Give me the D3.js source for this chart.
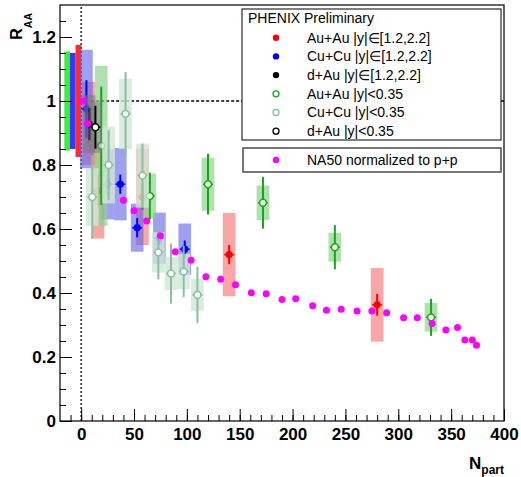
<!DOCTYPE html>
<html>
<head>
<meta charset="utf-8">
<script src="https://cdn.jsdelivr.net/npm/d3@7"></script>
<style>
    body { margin: 0; background: #fff; }
    svg { font-family: "Liberation Sans", Arial, Helvetica, sans-serif; }
</style>
</head>
<body>
<svg id="chart" width="521" height="477"></svg>
<script>
// PHENIX J/psi R_AA vs N_part, forward rapidity |y| in [1.2,2.2]
var auauFwdNpart = [7, 16, 58, 140, 280];
var auauFwdRaa = [0.93, 0.72, 0.70, 0.52, 0.363];
var auauFwdStat = [0.06, 0.05, 0.04, 0.03, 0.034];
var auauFwdSys = [0.13, 0.15, 0.15, 0.13, 0.115];

var cucuFwdNpart = [5, 25, 37, 53, 74, 98];
var cucuFwdRaa = [0.975, 0.74, 0.74, 0.604, 0.571, 0.537];
var cucuFwdStat = [0.09, 0.03, 0.03, 0.03, 0.02, 0.027];
var cucuFwdSys = [0.185, 0.11, 0.113, 0.075, 0.08, 0.08];

var dauFwdNpart = [8];
var dauFwdRaa = [0.928];
var dauFwdStat = [0.05];
var dauFwdSys = [0.09];

// mid rapidity |y|<0.35
var auauMidNpart = [19, 65, 120, 172, 240, 331];
var auauMidRaa = [0.86, 0.703, 0.74, 0.682, 0.543, 0.324];
var auauMidStat = [0.185, 0.073, 0.095, 0.081, 0.069, 0.058];
var auauMidSys = [0.25, 0.07, 0.083, 0.054, 0.045, 0.045];

var cucuMidNpart = [10.5, 26, 42, 58, 73, 85, 97, 110];
var cucuMidRaa = [0.70, 0.80, 0.96, 0.767, 0.527, 0.461, 0.467, 0.394];
var cucuMidStat = [0.13, 0.11, 0.13, 0.10, 0.084, 0.094, 0.08, 0.088];
var cucuMidSys = [0.09, 0.12, 0.11, 0.10, 0.063, 0.052, 0.055, 0.05];

var dauMidNpart = [13.5];
var dauMidRaa = [0.918];
var dauMidStat = [0.067];
var dauMidSys = [0.08];

// NA50, normalized to p+p
var na50Npart = [2, 6, 40, 50, 62, 75, 89, 104, 118, 132, 146, 161, 175, 190, 203, 219,
    232, 246, 261, 275, 289, 305, 318, 332, 345, 356, 363, 370, 374];
var na50Raa = [1.0, 0.93, 0.69, 0.657, 0.625, 0.579, 0.529, 0.502, 0.451, 0.443, 0.426, 0.401,
    0.398, 0.38, 0.382, 0.36, 0.346, 0.349, 0.344, 0.344, 0.338, 0.323, 0.323, 0.305,
    0.284, 0.292, 0.253, 0.253, 0.237];

// global systematic uncertainties (drawn at R_AA = 1, left of N_part = 0)
var globalSysLabels = ['Au+Au |y|<0.35', 'Cu+Cu', 'Au+Au |y|\u2208[1.2,2.2]'];
var globalSysErr = [0.155, 0.15, 0.175];

var xTickLabels = [0, 50, 100, 150, 200, 250, 300, 350, 400];
var yTickLabels = [0, 0.2, 0.4, 0.6, 0.8, 1, 1.2];

var legendHeader = 'PHENIX Preliminary';
var legendLabels = ['Au+Au |y|\u2208[1.2,2.2]', 'Cu+Cu |y|\u2208[1.2,2.2]', 'd+Au |y|\u2208[1.2,2.2]',
    'Au+Au |y|<0.35', 'Cu+Cu |y|<0.35', 'd+Au |y|<0.35'];
var na50Label = 'NA50 normalized to p+p';

var series = [
    {n: auauFwdNpart, r: auauFwdRaa, stat: auauFwdStat, sys: auauFwdSys, color: '#ff0000', box: '#f56b6b', boxOpacity: 0.6, open: false},
    {n: cucuFwdNpart, r: cucuFwdRaa, stat: cucuFwdStat, sys: cucuFwdSys, color: '#0000ff', box: '#6161e6', boxOpacity: 0.6, open: false},
    {n: dauFwdNpart, r: dauFwdRaa, stat: dauFwdStat, sys: dauFwdSys, color: '#000000', box: '#7b7b7b', boxOpacity: 0.6, open: false},
    {n: auauMidNpart, r: auauMidRaa, stat: auauMidStat, sys: auauMidSys, color: '#11aa11', box: '#8ed38e', boxOpacity: 0.7, open: true},
    {n: cucuMidNpart, r: cucuMidRaa, stat: cucuMidStat, sys: cucuMidSys, color: '#88c0a0', box: '#d3e6d7', boxOpacity: 0.8, open: true},
    {n: dauMidNpart, r: dauMidRaa, stat: dauMidStat, sys: dauMidSys, color: '#000000', box: '#7b7b7b', boxOpacity: 0.5, open: true}
];
var globalColors = ['#3cee3c', '#3636ff', '#ff2a2a'];
var sysHalfWidth = 6;
var globalWidth = 5.3;

var svg = d3.select('#chart');

var x = d3.scaleLinear().domain([-20, 400]).range([60, 504]);
var y = d3.scaleLinear().domain([0, 1.3]).range([421, 5]);

// reference lines
svg.append('line')
    .attr('x1', x(0)).attr('x2', x(0))
    .attr('y1', y(0)).attr('y2', y(1.3))
    .attr('stroke', '#000').attr('stroke-width', 1.3)
    .attr('stroke-dasharray', '2,2');
svg.append('line')
    .attr('x1', x(0)).attr('x2', x(400))
    .attr('y1', y(1)).attr('y2', y(1))
    .attr('stroke', '#000').attr('stroke-width', 1.5)
    .attr('stroke-dasharray', '3,2');

// global uncertainty bars
svg.append('g').selectAll('rect')
    .data(globalSysErr)
    .enter().append('rect')
    .attr('x', function(d, i) { return x(-globalWidth * (globalSysErr.length - i)); })
    .attr('width', x(globalWidth) - x(0))
    .attr('y', function(d) { return y(1 + d); })
    .attr('height', function(d) { return y(1 - d) - y(1 + d); })
    .attr('fill', function(d, i) { return globalColors[i]; });

function points(s) {
    return s.n.map(function(n, i) {
        return {n: n, r: s.r[i], stat: s.stat[i], sys: s.sys[i], s: s};
    });
}

// each data set: systematic boxes, then error bars, then markers
series.forEach(function(s) {
    var g = svg.append('g');
    var pts = points(s);

    g.selectAll('rect')
        .data(pts)
        .enter().append('rect')
        .attr('x', function(d) { return x(d.n - sysHalfWidth); })
        .attr('width', x(2 * sysHalfWidth) - x(0))
        .attr('y', function(d) { return y(d.r + d.sys); })
        .attr('height', function(d) { return y(d.r - d.sys) - y(d.r + d.sys); })
        .attr('fill', s.box)
        .attr('fill-opacity', s.boxOpacity);

    g.selectAll('line.v')
        .data(pts)
        .enter().append('line')
        .attr('class', 'v')
        .attr('x1', function(d) { return x(d.n); })
        .attr('x2', function(d) { return x(d.n); })
        .attr('y1', function(d) { return y(d.r + d.stat); })
        .attr('y2', function(d) { return y(d.r - d.stat); })
        .attr('stroke', s.color).attr('stroke-width', 2);
    g.selectAll('line.h')
        .data(pts)
        .enter().append('line')
        .attr('class', 'h')
        .attr('x1', function(d) { return x(d.n) - 5; })
        .attr('x2', function(d) { return x(d.n) + 5; })
        .attr('y1', function(d) { return y(d.r); })
        .attr('y2', function(d) { return y(d.r); })
        .attr('stroke', s.color).attr('stroke-width', 1.5);

    g.selectAll('circle')
        .data(pts)
        .enter().append('circle')
        .attr('cx', function(d) { return x(d.n); })
        .attr('cy', function(d) { return y(d.r); })
        .attr('r', s.open ? 3.4 : 3.6)
        .attr('fill', s.open ? '#fff' : s.color)
        .attr('stroke', s.color)
        .attr('stroke-width', s.open ? 1.5 : 0);
});

// NA50
svg.append('g').selectAll('circle')
    .data(na50Npart)
    .enter().append('circle')
    .attr('cx', function(d) { return x(d); })
    .attr('cy', function(d, i) { return y(na50Raa[i]); })
    .attr('r', 3.5)
    .attr('fill', '#ff00ff');

// frame
svg.append('rect')
    .attr('x', x(-20)).attr('y', y(1.3))
    .attr('width', x(400) - x(-20)).attr('height', y(0) - y(1.3))
    .attr('fill', 'none').attr('stroke', '#000').attr('stroke-width', 1.2);

// axes (ticks inside the frame)
function styleAxis(g) {
    g.select('.domain').remove();
    g.selectAll('.tick line').attr('stroke', '#000');
    g.selectAll('.tick text')
        .attr('fill', '#000')
        .attr('font-size', 17)
        .attr('font-weight', 'bold')
        .attr('font-family', '"Liberation Sans", Arial, Helvetica, sans-serif');
}

svg.append('g')
    .attr('transform', 'translate(0,' + y(0) + ')')
    .call(d3.axisBottom(x).tickValues(d3.range(-10, 401, 10)).tickSize(-6).tickFormat(''))
    .call(styleAxis);
svg.append('g')
    .attr('transform', 'translate(0,' + y(0) + ')')
    .call(d3.axisBottom(x).tickValues(xTickLabels).tickSize(-12).tickPadding(6.5).tickFormat(d3.format('d')))
    .call(styleAxis);
svg.append('g')
    .attr('transform', 'translate(' + x(-20) + ',0)')
    .call(d3.axisLeft(y).tickValues(d3.range(0, 1.3, 0.05)).tickSize(-6).tickFormat(''))
    .call(styleAxis);
svg.append('g')
    .attr('transform', 'translate(' + x(-20) + ',0)')
    .call(d3.axisLeft(y).tickValues(yTickLabels).tickSize(-12).tickPadding(4).tickFormat(d3.format('~g')))
    .call(styleAxis);

// axis titles
var yTitle = svg.append('text')
    .attr('transform', 'translate(22,13) rotate(-90)')
    .attr('text-anchor', 'end')
    .attr('font-weight', 'bold');
yTitle.append('tspan').attr('font-size', 16).text('R');
yTitle.append('tspan').attr('font-size', 10.5).attr('dy', 10).text('AA');

var xTitle = svg.append('text')
    .attr('x', 504).attr('y', 469)
    .attr('text-anchor', 'end')
    .attr('font-weight', 'bold');
xTitle.append('tspan').attr('font-size', 17).text('N');
xTitle.append('tspan').attr('font-size', 12).attr('dy', 5).text('part');

// legend
var legend = svg.append('g');
legend.append('rect')
    .attr('x', 242).attr('y', 9).attr('width', 259).attr('height', 131)
    .attr('fill', '#fff').attr('stroke', '#000').attr('stroke-width', 1);
legend.append('text')
    .attr('x', 248).attr('y', 18.5).attr('dy', '0.35em')
    .attr('font-size', 14).text(legendHeader);

var rows = legend.selectAll('g.row')
    .data(legendLabels)
    .enter().append('g')
    .attr('class', 'row')
    .attr('transform', function(d, i) { return 'translate(0,' + (37.7 + i * 18.7) + ')'; });
rows.append('circle')
    .attr('cx', 276).attr('cy', 0)
    .attr('r', function(d, i) { return series[i].open ? 3 : 3.2; })
    .attr('fill', function(d, i) { return series[i].open ? '#fff' : series[i].color; })
    .attr('stroke', function(d, i) { return series[i].color; })
    .attr('stroke-width', function(d, i) { return series[i].open ? 1.3 : 0; });
rows.append('text')
    .attr('x', 307).attr('y', 0).attr('dy', '0.35em')
    .attr('font-size', 14)
    .text(function(d) { return d; });

legend.append('rect')
    .attr('x', 243).attr('y', 148).attr('width', 258).attr('height', 24)
    .attr('fill', '#fff').attr('stroke', '#555').attr('stroke-width', 1.6);
legend.append('circle')
    .attr('cx', 276).attr('cy', 160).attr('r', 3.2).attr('fill', '#ff00ff');
legend.append('text')
    .attr('x', 307).attr('y', 160).attr('dy', '0.35em')
    .attr('font-size', 14).text(na50Label);
</script>
</body>
</html>
